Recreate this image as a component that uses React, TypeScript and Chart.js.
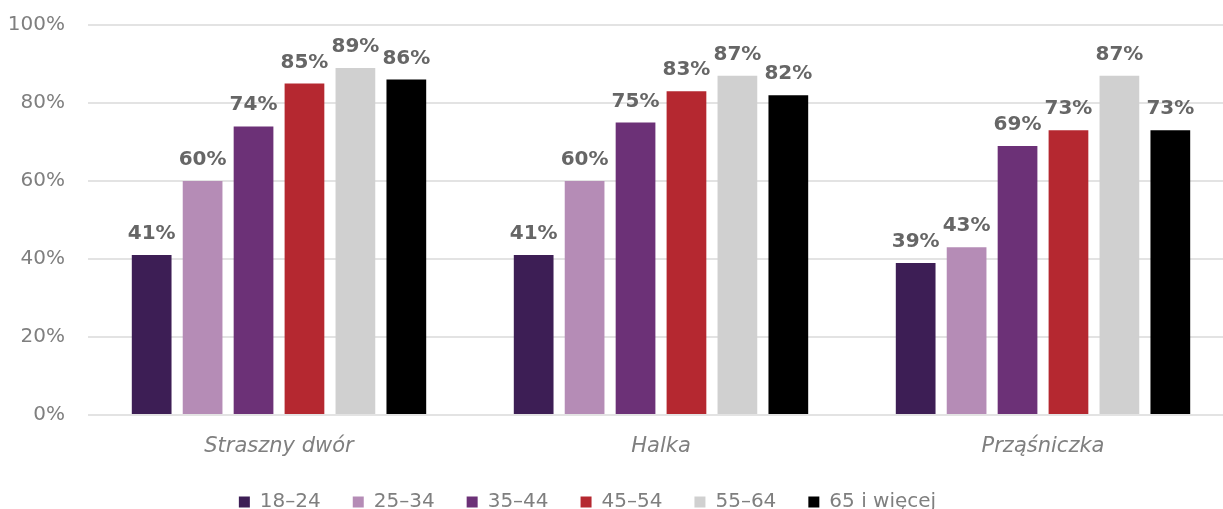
import React, { useEffect, useRef } from 'react';
import { Chart, registerables } from 'chart.js';

Chart.register(...registerables);

const categories = ['Straszny dwór', 'Halka', 'Prząśniczka'];
const seriesNames = ['18–24', '25–34', '35–44', '45–54', '55–64', '65 i więcej'];
const age18to24 = [41, 41, 39];
const age25to34 = [60, 60, 43];
const age35to44 = [74, 75, 69];
const age45to54 = [85, 83, 73];
const age55to64 = [89, 87, 87];
const age65plus = [86, 82, 73];
const seriesColors = ['#3d1e55', '#b58cb6', '#6c3177', '#b52830', '#d0d0d0', '#000000'];
const yMax = 100;
const yStep = 20;

const FONT = '"DejaVu Sans", sans-serif';

const dataLabelsPlugin = {
  id: 'dataLabels',
  afterDatasetsDraw(chart: any) {
    const ctx = chart.ctx;
    ctx.save();
    ctx.font = `bold 20px ${FONT}`;
    ctx.fillStyle = '#666666';
    ctx.textAlign = 'center';
    ctx.textBaseline = 'alphabetic';
    chart.data.datasets.forEach((ds: any, i: number) => {
      const meta = chart.getDatasetMeta(i);
      meta.data.forEach((el: any, j: number) => {
        ctx.fillText(`${ds.data[j]}%`, el.x, el.y - 16);
      });
    });
    ctx.restore();
  },
};

const legendPlacePlugin = {
  id: 'legendPlace',
  beforeDraw(chart: any) {
    const lg = chart.legend;
    if (!lg) return;
    lg.left = 0;
    lg.right = 1175;
    lg.top = 470;
    lg.bottom = 540;
  },
};

export default function App() {
  const canvasRef = useRef<HTMLCanvasElement | null>(null);

  useEffect(() => {
    const canvas = canvasRef.current;
    if (!canvas) return;
    const seriesData = [age18to24, age25to34, age35to44, age45to54, age55to64, age65plus];
    const chart = new Chart(canvas, {
      type: 'bar',
      data: {
        labels: categories,
        datasets: seriesNames.map((name, i) => ({
          label: name,
          data: seriesData[i],
          backgroundColor: seriesColors[i],
          borderWidth: 0,
          categoryPercentage: 0.8,
          barPercentage: 0.78,
        })),
      },
      options: {
        animation: false,
        responsive: false,
        maintainAspectRatio: false,
        layout: { padding: { top: 15, left: 0, right: 0, bottom: 0 } },
        plugins: {
          tooltip: { enabled: false },
          legend: {
            position: 'bottom',
            maxHeight: 44,
            labels: {
              boxWidth: 11,
              boxHeight: 11,
              padding: 32,
              color: '#7f7f7f',
              font: { family: FONT, size: 20 },
            },
          },
        },
        scales: {
          x: {
            grid: { display: false, drawTicks: false },
            border: { display: false },
            ticks: {
              color: '#7f7f7f',
              padding: 19,
              font: { family: FONT, size: 21, style: 'italic' },
            },
            afterFit(scale: any) {
              scale.height = 50;
            },
          },
          y: {
            min: 0,
            max: yMax,
            grid: { color: '#e3e3e3', lineWidth: 2, drawTicks: false },
            border: { display: false },
            ticks: {
              stepSize: yStep,
              color: '#7f7f7f',
              padding: 23,
              font: { family: FONT, size: 20 },
              callback: (v: any) => `${v}%`,
            },
            afterFit(scale: any) {
              scale.width = 88;
            },
          },
        },
      },
      plugins: [dataLabelsPlugin, legendPlacePlugin],
    });
    return () => chart.destroy();
  }, []);

  return (
    <div
      style={{
        position: 'fixed',
        left: 0,
        top: 0,
        width: 1223,
        height: 509,
        overflow: 'hidden',
        background: '#ffffff',
      }}
    >
      <canvas
        ref={canvasRef}
        width={1234}
        height={519}
        style={{ display: 'block', position: 'absolute', left: 0, top: -10 }}
      />
    </div>
  );
}
